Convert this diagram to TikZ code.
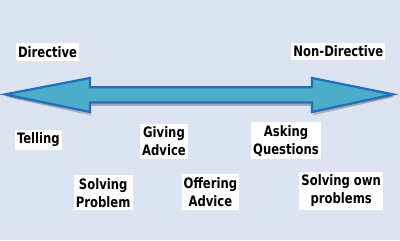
\documentclass[tikz,border=0pt]{standalone}
\usepackage{fontspec}
\setmainfont[FakeStretch=0.9]{DejaVu Sans Condensed}
\usepackage{xcolor}
\definecolor{backdrop}{HTML}{DBE4F0}
\definecolor{shaft}{HTML}{4BADC7}
\definecolor{rim}{HTML}{1F70C4}
\definecolor{shade}{HTML}{9AA6B4}
\tikzset{
  stance/.style={fill=white,font=\bfseries\fontsize{10.2}{12.8}\selectfont,align=center,inner xsep=1.5pt,inner ysep=2.2pt},
}

\begin{document}
\begin{tikzpicture}
  % Backdrop
  \fill[backdrop] (0,0) rectangle (10,6);
  \useasboundingbox (0,0) rectangle (10,6);

  % Double arrow (shadow, then body)
  \fill[shade,opacity=0.5] (0.17,3.58) -- (2.27,4.0) -- (2.27,3.77) -- (7.82,3.77) -- (7.82,4.0)
    -- (9.84,3.58) -- (7.82,3.12) -- (7.82,3.36) -- (2.27,3.36) -- (2.27,3.12) -- cycle;
  \filldraw[fill=shaft,draw=rim,line width=1.6pt,line join=miter]
    (0.13,3.64) -- (2.25,4.05) -- (2.25,3.82) -- (7.8,3.82) -- (7.8,4.05)
    -- (9.83,3.64) -- (7.8,3.2) -- (7.8,3.44) -- (2.25,3.44) -- (2.25,3.2) -- cycle;

  % Ends of the scale
  \node[stance] (directive) at (1.19,4.7) {Directive};
  \node[stance] (nondirective) at (8.46,4.72) {Non-Directive};

  % Ways of helping
  \node[stance] (telling) at (0.96,2.5) {Telling};
  \node[stance] (giving) at (4.1,2.46) {Giving\\Advice};
  \node[stance] (asking) at (7.15,2.48) {Asking\\Questions};
  \node[stance] (solving) at (2.58,1.18) {Solving\\Problem};
  \node[stance] (offering) at (5.26,1.2) {Offering\\Advice};
  \node[stance] (ownproblems) at (8.53,1.23) {Solving own\\problems};
\end{tikzpicture}
\end{document}
